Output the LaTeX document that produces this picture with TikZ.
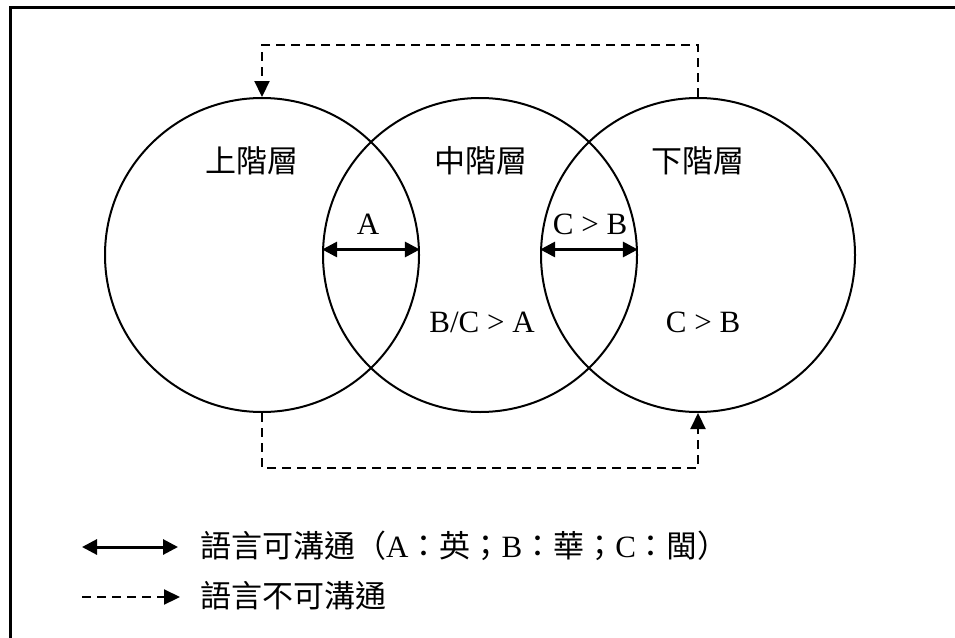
\documentclass[tikz,border=0pt]{standalone}
\usepackage{fontspec}
\setmainfont{Liberation Serif}
\newfontfamily\cjk{Noto Sans CJK TC}
\usetikzlibrary{arrows.meta}
\begin{document}
\begin{tikzpicture}[x=1pt,y=-1pt,
  ring/.style={circle,draw,line width=2pt,minimum size=314pt,inner sep=0pt},
  tip/.style={-{Triangle[length=16pt,width=15pt]}},
  bitip/.style={{Triangle[length=15pt,width=15pt]}-{Triangle[length=15pt,width=15pt]}},
  dashline/.style={line width=2.2pt,dash pattern=on 9pt off 6pt},
  solidline/.style={line width=3pt},
  cjklabel/.style={font=\cjk\fontsize{31}{36}\selectfont,inner sep=0pt},
  latlabel/.style={font=\fontsize{31}{34}\selectfont,inner sep=0pt}]
\useasboundingbox (0,0) rectangle (955,637);
\fill[white] (0,0) rectangle (955,637);
% frame
\draw[line width=3pt] (10,640) -- (10,7) -- (958,7);
% circles
\node[ring] (up) at (262,255) {};
\node[ring] (mid) at (480,255) {};
\node[ring] (low) at (698,255) {};
% circle labels
\node[cjklabel] (tup) at (252,161) {上階層};
\node[cjklabel] (tmid) at (481,161) {中階層};
\node[cjklabel] (tlow) at (698,161) {下階層};
\node[latlabel] (la) at (368,224) {A};
\node[latlabel] (lcb) at (590,224) {C > B};
\node[latlabel] (lbca) at (482,322) {B/C > A};
\node[latlabel] (lcb2) at (703,322) {C > B};
% lens arrows
\draw[solidline,bitip] (mid.178) -- (up.2);
\draw[solidline,bitip] (low.178) -- (mid.2);
% dashed connectors
\draw[dashline,tip] (low.north) -- ++(0,-52) -| (up.north);
\draw[dashline,tip] (up.south) -- ++(0,55) -| (low.south);
% legend
\coordinate (l1a) at (82,547);
\coordinate (l1b) at (178,547);
\coordinate (l2a) at (82,597);
\coordinate (l2b) at (180,597);
\draw[solidline,bitip] (l1a) -- (l1b);
\draw[dashline,tip] (l2a) -- (l2b);
\node[anchor=west,inner sep=0pt,font=\fontsize{31}{36}\selectfont] (leg1) at (200,546)
  {{\cjk 語言可溝通（}A{\cjk ：英；}B{\cjk ：華；}C{\cjk ：閩）}};
\node[anchor=west,cjklabel] (leg2) at (200,596) {語言不可溝通};
\end{tikzpicture}
\end{document}
